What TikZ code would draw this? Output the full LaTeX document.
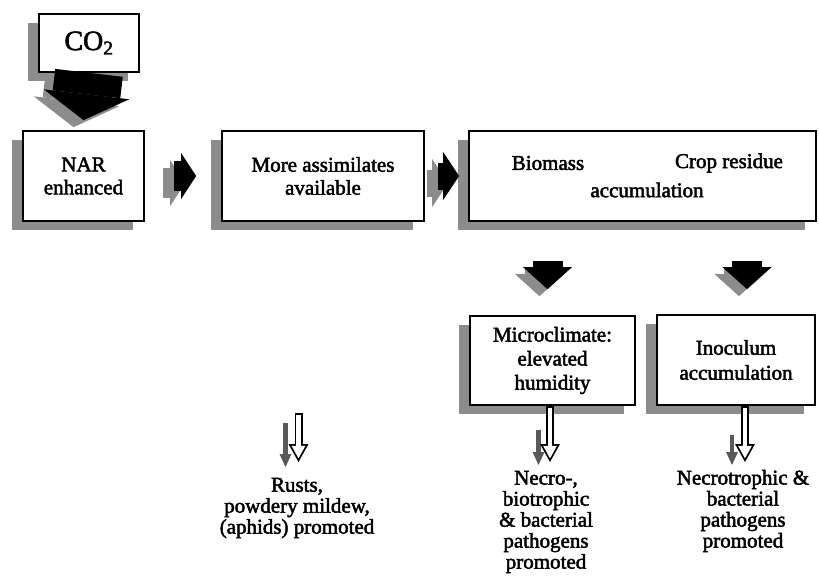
\documentclass[tikz,border=0pt]{standalone}
\usepackage{fontspec}
\setmainfont{Liberation Serif}[FakeBold=2.2]
\usetikzlibrary{arrows.meta,shadows,calc}
\definecolor{shadowgray}{gray}{0.55}
\begin{document}
\begin{tikzpicture}[x=1pt,y=-1pt,
  box/.style={draw, line width=1.7pt, fill=white, align=center, inner sep=0pt,
     font=\fontsize{21}{23}\selectfont,
     general shadow={fill=shadowgray, shadow xshift=-11pt, shadow yshift=-9pt}},
  lbl/.style={align=center, inner sep=0pt, font=\fontsize{21}{21}\selectfont},
  shadowed/.style={color=shadowgray, transform canvas={xshift=-#1pt, yshift=-7pt}},
  bigarrow/.style={line width=68pt, -{Triangle[length=26pt 0 0, width=86pt 0 0, line width=0pt 0 0]}},
  harrowA/.style={line width=30pt, -{Triangle[length=15pt 0 0, width=46pt 0 0, line width=0pt 0 0]}},
  harrowB/.style={line width=27pt, -{Triangle[length=16pt 0 0, width=48pt 0 0, line width=0pt 0 0]}},
  varrow/.style={line width=30pt, -{Triangle[length=22pt 0 0, width=49pt 0 0, line width=0pt 0 0]}},
  hollowout/.style={black, line width=8pt, -{Triangle[length=18pt 0 0, width=20pt 0 0, line width=0pt 0 0]}},
  hollowin/.style={white, line width=4.4pt, shorten <=1.8pt, shorten >=3.7pt, -{Triangle[length=12.5pt 0 0, width=13.8pt 0 0, line width=0pt 0 0]}},
  darkarrow/.style={black!65, line width=4.5pt, -{Triangle[length=13pt 0 0, width=12pt 0 0, line width=0pt 0 0]}}
]
\useasboundingbox (0,0) rectangle (819,584);

% boxes
\node[box, minimum width=100pt, minimum height=58pt, font=\fontsize{28}{30}\selectfont] (co2) at (89,43) {CO\textsubscript{2}};
\node[box, minimum width=121pt, minimum height=90pt] (nar) at (83.5,176) {NAR\\enhanced};
\node[box, minimum width=202pt, minimum height=90pt] (more) at (323,176) {More assimilates\\available};
\node[box, minimum width=347pt, minimum height=90pt] (big) at (642.5,176) {};
\node[lbl] (biomass) at (548,163) {Biomass};
\node[lbl] (residue) at (729,163) {Crop residue};
\node[lbl] (accum) at (647,190) {accumulation};
\node[box, minimum width=165pt, minimum height=89pt, font=\fontsize{21}{24}\selectfont] (micro) at (552.5,360.5) {Microclimate:\\elevated\\humidity};
\node[box, minimum width=158pt, minimum height=90pt, font=\fontsize{21}{25}\selectfont] (inoc) at (736,360) {Inoculum\\accumulation};

% bottom texts
\node[lbl] (rusts) at (297,508) {Rusts,\\powdery mildew,\\(aphids) promoted};
\node[lbl] (necro) at (546,522) {Necro-,\\biotrophic\\\& bacterial\\pathogens\\promoted};
\node[lbl] (necrot) at (743,511) {Necrotrophic \&\\bacterial\\pathogens\\promoted};

% block arrows with shadows
\draw[bigarrow, shadowed=10] (co2.south) -- ([yshift=10pt]nar.north);
\draw[bigarrow, black] (co2.south) -- ([yshift=10pt]nar.north);

\draw[harrowA, shadowed=11] ([xshift=29pt]nar.east) -- ([xshift=-25pt]more.west);
\draw[harrowA, black] ([xshift=29pt]nar.east) -- ([xshift=-25pt]more.west);

\draw[harrowB, shadowed=11] ([xshift=13pt]more.east) -- ([xshift=-9pt]big.west);
\draw[harrowB, black] ([xshift=13pt]more.east) -- ([xshift=-9pt]big.west);

\draw[varrow, shadowed=8] ([xshift=-5pt,yshift=54pt]micro.north) -- ([xshift=-5pt,yshift=26pt]micro.north);
\draw[varrow, black] ([xshift=-5pt,yshift=54pt]micro.north) -- ([xshift=-5pt,yshift=26pt]micro.north);

\draw[varrow, shadowed=8] ([xshift=11pt,yshift=53pt]inoc.north) -- ([xshift=11pt,yshift=25pt]inoc.north);
\draw[varrow, black] ([xshift=11pt,yshift=53pt]inoc.north) -- ([xshift=11pt,yshift=25pt]inoc.north);

% thin double arrows
\coordinate (rh1) at (298.5,413); \coordinate (rh2) at (298.5,462);
\coordinate (rd1) at (285.5,423); \coordinate (rd2) at (285.5,467);
\coordinate (mh2) at (550,462);
\coordinate (md1) at (538.5,430); \coordinate (md2) at (538.5,465);
\coordinate (ih2) at (745,462);
\coordinate (id1) at (732,435); \coordinate (id2) at (732,465);

\draw[darkarrow] (rd1) -- (rd2);
\draw[hollowout] (rh1) -- (rh2);
\draw[hollowin] (rh1) -- (rh2);

\draw[darkarrow] (md1) -- (md2);
\draw[hollowout] ([xshift=-2.5pt]micro.south) -- (mh2);
\draw[hollowin] ([xshift=-2.5pt]micro.south) -- (mh2);

\draw[darkarrow] (id1) -- (id2);
\draw[hollowout] ([xshift=9pt]inoc.south) -- (ih2);
\draw[hollowin] ([xshift=9pt]inoc.south) -- (ih2);
\end{tikzpicture}
\end{document}
